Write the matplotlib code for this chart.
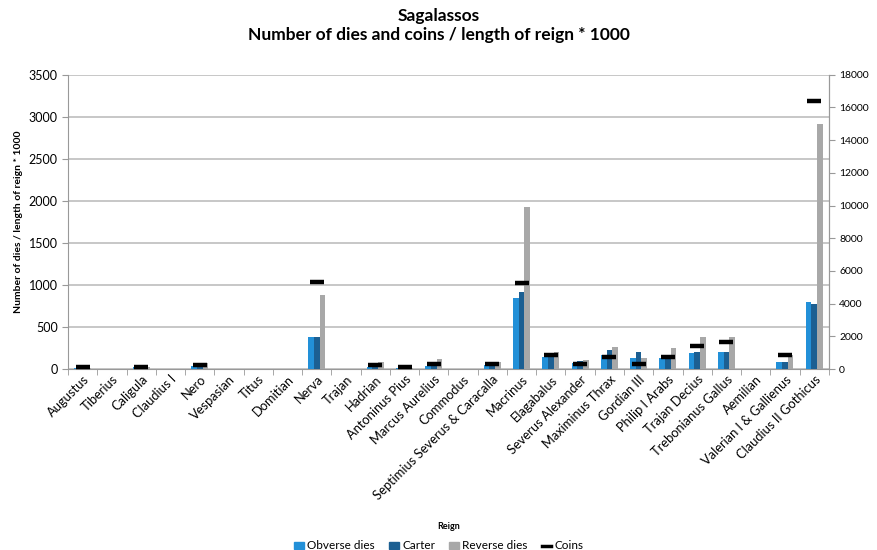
import numpy as np
import matplotlib.pyplot as plt
from matplotlib.lines import Line2D
from matplotlib.patches import Patch

plt.rcParams['font.family'] = ['Lato', 'DejaVu Sans']

# Reigns (x categories)
reigns = ['Augustus', 'Tiberius', 'Caligula', 'Claudius I', 'Nero', 'Vespasian',
          'Titus', 'Domitian', 'Nerva', 'Trajan', 'Hadrian', 'Antoninus Pius',
          'Marcus Aurelius', 'Commodus', 'Septimius Severus & Caracalla',
          'Macrinus', 'Elagabalus', 'Severus Alexander', 'Maximinus Thrax',
          'Gordian III', 'Philip I Arabs', 'Trajan Decius', 'Trebonianus Gallus',
          'Aemilian', 'Valerian I & Gallienus', 'Claudius II Gothicus']

# dies / length of reign * 1000 (left axis)
obverse = [10, 0, 20, 0, 40, 0, 0, 0, 380, 0, 30, 10, 40, 0, 50,
           845, 140, 70, 165, 130, 130, 190, 200, 0, 80, 800]
carter = [10, 0, 15, 0, 40, 0, 0, 0, 380, 0, 30, 10, 50, 0, 60,
          917, 150, 90, 225, 200, 140, 200, 205, 0, 80, 775]
reverse = [15, 0, 20, 0, 70, 0, 0, 0, 880, 0, 80, 10, 120, 0, 80,
           1930, 200, 110, 260, 130, 250, 380, 380, 0, 165, 2917]

# coins / length of reign * 1000 (right axis), None = no coins
coins = [100, None, 100, None, 250, None, None, None, 5300, None, 250, 100,
         300, None, 300, 5250, 850, 300, 730, 300, 730, 1400, 1650, None,
         860, 16400]

c_obv = '#2290d8'
c_cart = '#1c5f92'
c_rev = '#a8a8a8'

fig = plt.figure(figsize=(8.78, 5.5), dpi=100)
ax = fig.add_axes([0.0775, 0.329, 0.8665, 0.535])

x = np.arange(len(reigns))
w = 0.195
ax.bar(x - w, obverse, w, color=c_obv, zorder=3)
ax.bar(x, carter, w, color=c_cart, zorder=3)
ax.bar(x + w, reverse, w, color=c_rev, zorder=3)

ax.set_xlim(-0.5, len(reigns) - 0.5)
ax.set_ylim(0, 3500)
ax.set_yticks(np.arange(0, 3501, 500))
ax.yaxis.grid(True, color='#bdbdbd', linewidth=1.2, zorder=0)
ax.set_axisbelow(True)

ax.set_xticks(x)
ax.set_xticklabels(reigns, rotation=45, ha='right', rotation_mode='anchor', fontsize=9.3)
ax.tick_params(axis='x', length=0, pad=3)
ax.set_xticks(np.arange(-0.5, len(reigns)), minor=True)
ax.tick_params(axis='x', which='minor', length=4, color='#999999')
ax.tick_params(axis='y', labelsize=9, length=4, color='#999999')

ax.set_ylabel('Number of dies / length of reign * 1000', fontsize=7.5,
              fontweight='bold')
ax.set_xlabel('Reign', fontsize=6.5, fontweight='bold', labelpad=14)

for side in ['top']:
    ax.spines[side].set_visible(False)
for side in ['left', 'bottom', 'right']:
    ax.spines[side].set_color('#999999')

ax2 = ax.twinx()
coin_vals = np.array([np.nan if c is None else c for c in coins], dtype=float)
ax2.plot(x, coin_vals, linestyle='none', marker='_', markersize=10,
         markeredgewidth=3.2, color='black', zorder=5)
ax2.set_ylim(0, 18000)
ax2.set_yticks(np.arange(0, 18001, 2000))
ax2.tick_params(axis='y', labelsize=7.5, length=4, color='#999999')
for side in ['top', 'left', 'bottom']:
    ax2.spines[side].set_visible(False)
ax2.spines['right'].set_color('#999999')

fig.suptitle('Sagalassos\nNumber of dies and coins / length of reign * 1000',
             fontsize=12.5, fontweight='bold', y=0.985)

handles = [Patch(color=c_obv), Patch(color=c_cart), Patch(color=c_rev),
           Line2D([], [], color='black', linewidth=2.5)]
labels = ['Obverse dies', 'Carter', 'Reverse dies', 'Coins']
fig.legend(handles, labels, loc='lower center', ncol=4, frameon=False,
           fontsize=8.5, bbox_to_anchor=(0.5, -0.022), handlelength=0.8,
           handleheight=0.6, columnspacing=1.2, handletextpad=0.3)

fig.savefig('out.png', dpi=100)
